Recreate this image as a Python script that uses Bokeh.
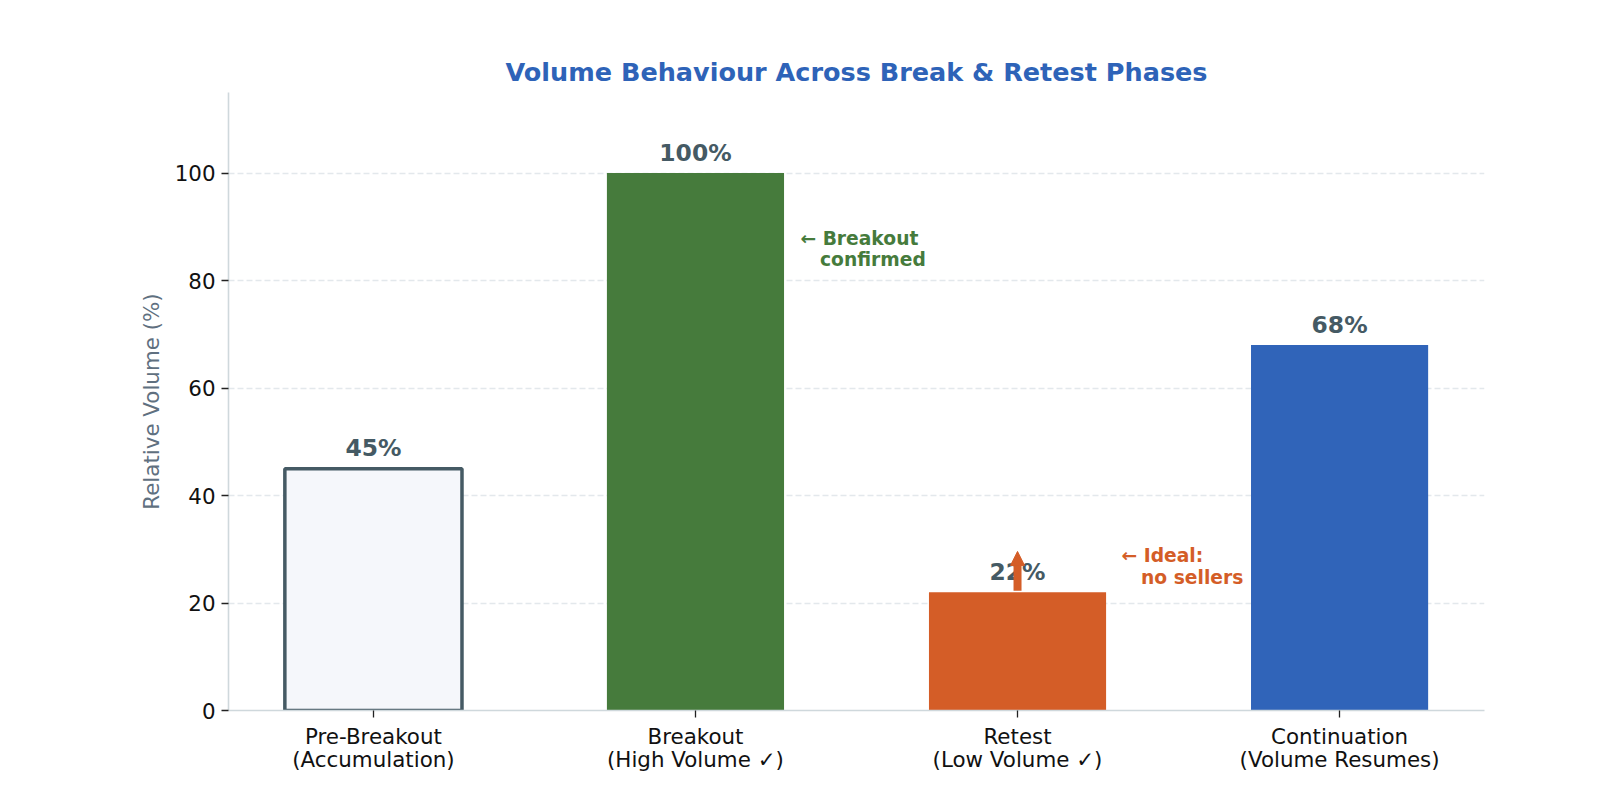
from bokeh.plotting import figure
from bokeh.models import ColumnDataSource, FixedTicker, Range1d, Arrow, NormalHead, Label
from bokeh.core.properties import value
from bokeh.embed import file_html
from bokeh.resources import INLINE

categories = ["Pre-Breakout\n(Accumulation)", "Breakout\n(High Volume \u2713)",
              "Retest\n(Low Volume \u2713)", "Continuation\n(Volume Resumes)"]
volumes = [45, 100, 22, 68]
labels = ["45%", "100%", "22%", "68%"]
fills = ["#f5f7fb", "#467b3c", "#d45d27", "#3064b9"]
borders = ["#455a64", "#467b3c", "#d45d27", "#3064b9"]
border_widths = [3.5, 0, 0, 0]

xs = list(range(len(categories)))
NB = "\u00a0"

p = figure(width=1584, height=775, output_backend="svg", toolbar_location=None,
           x_range=Range1d(-0.45, 3.45), y_range=Range1d(0, 115),
           min_border_left=228, min_border_right=100, min_border_top=92, min_border_bottom=64)

p.title.text = "Volume Behaviour Across Break & Retest Phases"
p.title.align = "center"
p.title.text_font = "DejaVu Sans"
p.title.text_font_size = "25.5px"
p.title.text_font_style = "bold"
p.title.text_color = "#2e63b8"
p.title.standoff = 11

src = ColumnDataSource(dict(x=xs, top=volumes, fill=fills, line=borders, lw=border_widths,
                            lab=labels, ly=[v + 1.2 for v in volumes]))
p.vbar(x="x", top="top", bottom=0, width=0.55, fill_color="fill", line_color="line",
       line_width="lw", source=src)
p.text(x="x", y="ly", text="lab", source=src, text_align="center", text_baseline="bottom",
       text_font=value("DejaVu Sans"), text_font_style="bold", text_font_size="23.4px",
       text_color="#455a64")

# annotations
p.add_layout(Arrow(end=NormalHead(size=14, fill_color="#d45d27", line_color="#d45d27", line_width=1),
                   x_start=2, y_start=volumes[2] + 0.3, x_end=2, y_end=29.6,
                   line_color="#d45d27", line_width=8))
p.add_layout(Label(x=1.326, y=85.9, text="\u2190 Breakout\n" + NB * 3 + "confirmed", text_align="left",
                   text_baseline="middle", text_font="DejaVu Sans", text_font_style="bold",
                   text_font_size="18.7px", text_color="#467b3c", text_line_height=1.02))
p.add_layout(Label(x=2.323, y=26.8, text="\u2190 Ideal:\n" + NB * 3 + "no sellers", text_align="left",
                   text_baseline="middle", text_font="DejaVu Sans", text_font_style="bold",
                   text_font_size="18.7px", text_color="#d45d27", text_line_height=1.02))

# axes
p.xaxis.ticker = FixedTicker(ticks=xs)
p.xaxis.major_label_overrides = {i: c for i, c in enumerate(categories)}
p.xaxis.major_label_text_line_height = 0.95
p.yaxis.ticker = FixedTicker(ticks=[0, 20, 40, 60, 80, 100])
for ax in (p.xaxis, p.yaxis):
    ax.axis_line_color = "#cfd8dc"
    ax.axis_line_width = 1.6
    ax.major_tick_line_color = "#222222"
    ax.major_tick_line_width = 1.3
    ax.major_tick_out = 7
    ax.major_tick_in = 0
    ax.minor_tick_line_color = None
    ax.major_label_standoff = 6
    ax.major_label_text_font = "DejaVu Sans"
    ax.major_label_text_font_size = "21.4px"
    ax.major_label_text_color = "#111111"
p.yaxis.axis_label = "Relative Volume (%)"
p.yaxis.axis_label_standoff = 8
p.yaxis.axis_label_text_font = "DejaVu Sans"
p.yaxis.axis_label_text_font_size = "21.4px"
p.yaxis.axis_label_text_font_style = "normal"
p.yaxis.axis_label_text_color = "#5f7080"

p.xgrid.grid_line_color = None
p.ygrid.grid_line_color = "#e3e8ec"
p.ygrid.grid_line_dash = "6 3"
p.ygrid.grid_line_width = 1.3
p.outline_line_color = None

open("out.html", "w").write(file_html(p, INLINE))
